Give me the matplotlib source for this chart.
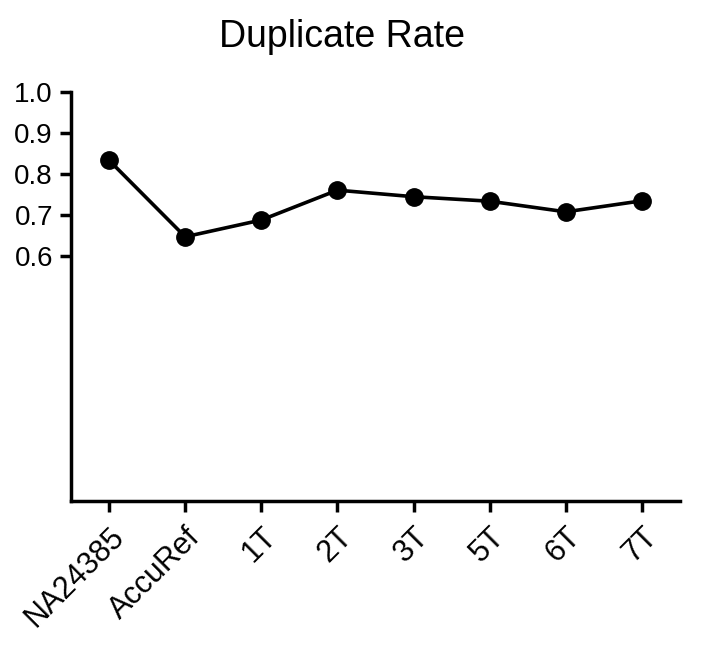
import matplotlib
matplotlib.use("Agg")
import matplotlib.pyplot as plt
from matplotlib.transforms import ScaledTranslation

# sample names and duplicate rates
samples = ["NA24385", "AccuRef", "1T", "2T", "3T", "5T", "6T", "7T"]
dup_rate = [0.833, 0.646, 0.687, 0.760, 0.744, 0.733, 0.707, 0.734]
y_ticks = [0.6, 0.7, 0.8, 0.9, 1.0]

plt.rcParams['font.family'] = ['Liberation Sans', 'DejaVu Sans']

fig = plt.figure(figsize=(7.01, 6.51), dpi=100)
ax = fig.add_axes([71/701, 150/651, 609/701, 409/651])

x = list(range(len(samples)))
ax.plot(x, dup_rate, color="black", linewidth=2.6,
        marker="o", markersize=12.5, markerfacecolor="black",
        markeredgecolor="black")

ax.set_xlim(-0.5, len(samples) - 0.5)
ax.set_ylim(0, 1.0)
ax.set_yticks(y_ticks)
ax.set_yticklabels([f"{t:.1f}" for t in y_ticks], fontsize=20)
ax.set_xticks(x)
ax.set_xticklabels(samples, fontsize=22, rotation=45, ha="right",
                   rotation_mode="anchor")

# nudge rotated labels a little left, as in the original
shift = ScaledTranslation(-0.06, -0.02, fig.dpi_scale_trans)
for lab in ax.get_xticklabels():
    lab.set_transform(lab.get_transform() + shift)

for side in ["top", "right"]:
    ax.spines[side].set_visible(False)
for side in ["left", "bottom"]:
    ax.spines[side].set_linewidth(2.5)
ax.tick_params(axis="both", length=8, width=2.5)
ax.tick_params(axis="y", pad=5)
ax.tick_params(axis="x", pad=7)

fig.text(342/701, 1 - 47/651, "Duplicate Rate", fontsize=27,
         ha="center", va="baseline")

fig.savefig("out.png", dpi=100)
